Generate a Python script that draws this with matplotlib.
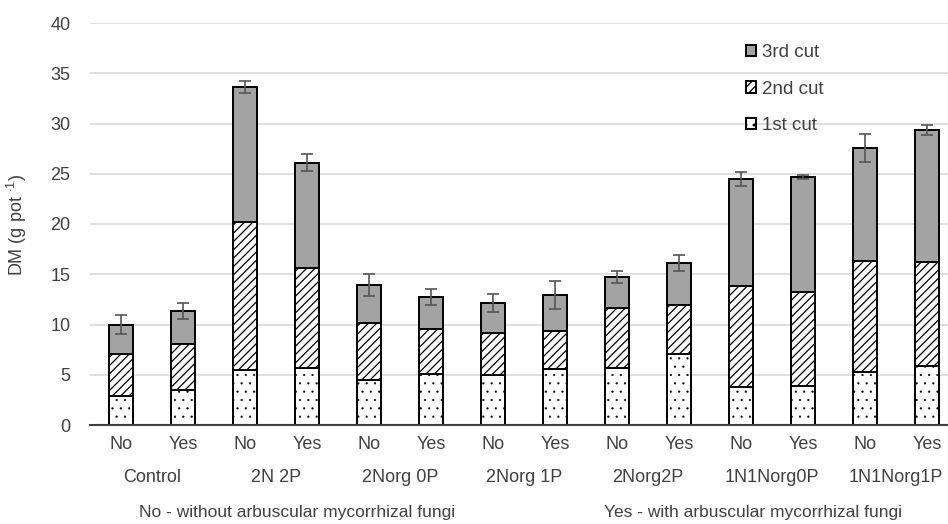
import matplotlib
matplotlib.use("Agg")
import matplotlib.pyplot as plt
from matplotlib.transforms import blended_transform_factory
import numpy as np

plt.rcParams['font.family'] = ['Liberation Sans', 'DejaVu Sans']
plt.rcParams['mathtext.fontset'] = 'custom'
plt.rcParams['mathtext.rm'] = 'Liberation Sans'
plt.rcParams['mathtext.it'] = 'Liberation Sans'

# ---- data ----
groups = ["Control", "2N 2P", "2Norg 0P", "2Norg 1P", "2Norg2P", "1N1Norg0P", "1N1Norg1P"]
amf_labels = ["No", "Yes"]
cut1 = [2.9, 3.5, 5.5, 5.7, 4.5, 5.1, 5.0, 5.6, 5.7, 7.1, 3.8, 3.9, 5.3, 5.85]
cut2_top = [7.1, 8.1, 20.2, 15.6, 10.1, 9.55, 9.15, 9.4, 11.6, 11.9, 13.8, 13.2, 16.35, 16.2]
total = [10.0, 11.3, 33.6, 26.1, 13.9, 12.7, 12.1, 12.9, 14.7, 16.1, 24.5, 24.7, 27.6, 29.4]
err = [0.95, 0.8, 0.6, 0.85, 1.1, 0.8, 0.9, 1.4, 0.6, 0.8, 0.7, 0.2, 1.4, 0.5]
footnote_no = "No - without arbuscular mycorrhizal fungi"
footnote_yes = "Yes - with arbuscular mycorrhizal fungi"

cut1 = np.array(cut1)
cut2 = np.array(cut2_top) - cut1
cut3 = np.array(total) - np.array(cut2_top)

W, H = 948, 524
fig = plt.figure(figsize=(W / 100, H / 100), dpi=100)
ax = fig.add_axes([90 / W, (H - 425) / H, 868 / W, (425 - 23) / H])

n = len(cut1)
x = np.arange(n)
bw = 0.4
txt = '#404040'


def set_hlw(container, lw):
    for p in container.patches:
        if hasattr(p, 'set_hatch_linewidth'):
            p.set_hatch_linewidth(lw)


with plt.rc_context({'hatch.linewidth': 0.35}):
    b1 = ax.bar(x, cut1, bw, facecolor='white', edgecolor='black', hatch='..', linewidth=1.4, zorder=3, label='1st cut')
set_hlw(b1, 0.35)
with plt.rc_context({'hatch.linewidth': 0.9}):
    b2 = ax.bar(x, cut2, bw, bottom=cut1, facecolor='white', edgecolor='black', hatch='////', linewidth=1.4, zorder=3, label='2nd cut')
set_hlw(b2, 0.9)
b3 = ax.bar(x, cut3, bw, bottom=np.array(cut2_top), facecolor='#a3a3a3', edgecolor='black', linewidth=1.4, zorder=3, label='3rd cut')
ax.errorbar(x, total, yerr=err, fmt='none', ecolor='#555555', elinewidth=1.2, capsize=4.3, capthick=1.2, zorder=4)

ax.set_xlim(-0.5, n - 0.5)
ax.set_ylim(0, 40)
ax.set_yticks(np.arange(0, 41, 5))
ax.yaxis.grid(True, color='#d9d9d9', linewidth=1.2, zorder=0)
ax.set_axisbelow(True)
for s in ['top', 'right', 'left']:
    ax.spines[s].set_visible(False)
ax.spines['bottom'].set_color('#404040')
ax.spines['bottom'].set_linewidth(1.5)
ax.spines['bottom'].set_zorder(5)
ax.tick_params(axis='both', length=0, labelsize=13, colors=txt)
ax.tick_params(axis='y', pad=14)
ax.tick_params(axis='x', pad=8)
ax.set_xticks(x)
ax.set_xticklabels([amf_labels[i % 2] for i in range(n)])

trans = blended_transform_factory(ax.transData, fig.transFigure)
for gi, g in enumerate(groups):
    ax.text(2 * gi + 0.5, 1 - 478 / H, g, transform=trans, ha='center', va='center', fontsize=13, color=txt, clip_on=False)

fig.text(297 / W, 1 - 513 / H, footnote_no, ha='center', va='center', fontsize=12.5, color=txt)
fig.text(753 / W, 1 - 513 / H, footnote_yes, ha='center', va='center', fontsize=12.5, color=txt)

fig.text(17 / W, 1 - 225 / H, 'DM (g pot $^{\\cdot 1}$)', rotation=90, ha='center', va='center', fontsize=13, color=txt)

leg = fig.legend(handles=[b3, b2, b1], labels=['3rd cut', '2nd cut', '1st cut'],
                 loc='upper left', bbox_to_anchor=(746 / W, 1 - 44 / H), frameon=False,
                 fontsize=13.5, handlelength=0.55, handleheight=0.55, handletextpad=0.3,
                 labelspacing=1.05, borderpad=0, borderaxespad=0)
for t in leg.get_texts():
    t.set_color(txt)

fig.savefig('out.png', dpi=100)
